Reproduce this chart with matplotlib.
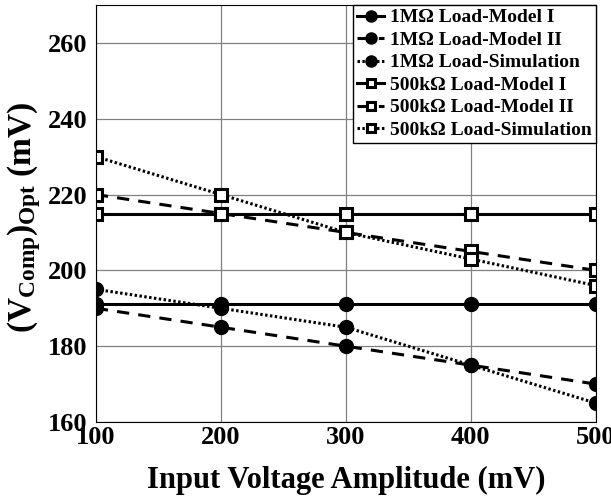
import matplotlib
matplotlib.use("Agg")
import matplotlib.pyplot as plt

plt.rcParams["font.family"] = "Liberation Serif"
plt.rcParams["font.weight"] = "bold"
plt.rcParams["mathtext.fontset"] = "custom"
plt.rcParams["mathtext.rm"] = "Liberation Serif:bold"
plt.rcParams["mathtext.bf"] = "Liberation Serif:bold"
plt.rcParams["mathtext.it"] = "Liberation Serif:bold"

x = [100, 200, 300, 400, 500]
m1_model1 = [191, 191, 191, 191, 191]
m1_model2 = [190, 185, 180, 175, 170]
m1_sim = [195, 190, 185, 175, 165]
k500_model1 = [215, 215, 215, 215, 215]
k500_model2 = [220, 215, 210, 205, 200]
k500_sim = [230, 220, 210, 203, 196]

fig = plt.figure(figsize=(6.11, 5.0), dpi=100)
ax = fig.add_axes([0.157, 0.156, 0.818, 0.834])

circ = dict(marker="o", ms=10, color="black", mfc="black", lw=2.2)
sq = dict(marker="s", ms=8, color="black", mfc="white", mec="black", mew=2.2, lw=2.2)

ax.plot(x, m1_model1, "-", label="1M\u03a9 Load-Model I", **circ)
ax.plot(x, m1_model2, label="1M\u03a9 Load-Model II", ls=(0, (4, 3)), **circ)
ax.plot(x, m1_sim, label="1M\u03a9 Load-Simulation", ls=(0, (0.8, 0.8)), **circ)
ax.plot(x, k500_model1, "-", label="500k\u03a9 Load-Model I", **sq)
ax.plot(x, k500_model2, label="500k\u03a9 Load-Model II", ls=(0, (4, 3)), **sq)
ax.plot(x, k500_sim, label="500k\u03a9 Load-Simulation", ls=(0, (0.8, 0.8)), **sq)

ax.set_xlim(100, 500)
ax.set_ylim(160, 270)
ax.set_xticks(x)
ax.set_yticks([160, 180, 200, 220, 240, 260])
ax.grid(True, color="#808080", lw=0.9)
ax.tick_params(labelsize=19, length=0, pad=6)
ax.tick_params(axis="x", pad=3)
for lab in ax.get_xticklabels() + ax.get_yticklabels():
    lab.set_fontweight("bold")

ax.set_xlabel("Input Voltage Amplitude (mV)", fontsize=22, fontweight="bold", labelpad=12)
ax.set_ylabel(r"$\mathregular{(V_{Comp})_{Opt}}$ (mV)", fontsize=24, fontweight="bold")
ax.yaxis.set_label_coords(-0.105, 0.49)

leg = ax.legend(loc="upper right", fontsize=14, handlelength=1.4, handletextpad=0.3,
                borderaxespad=0, fancybox=False, framealpha=1, edgecolor="black",
                labelspacing=0.25, borderpad=0.2, markerscale=0.8)
leg.get_frame().set_linewidth(1)

fig.savefig("out.png", dpi=100)
